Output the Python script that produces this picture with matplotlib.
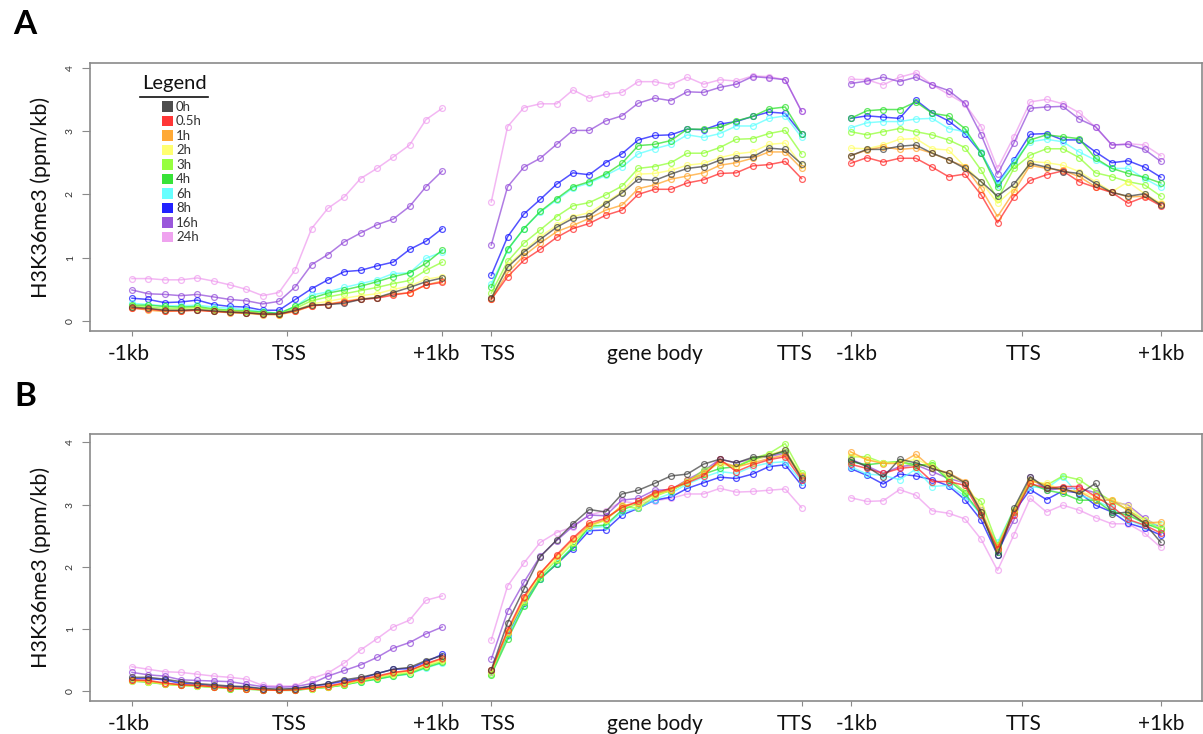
import numpy as np
import matplotlib
matplotlib.use("Agg")
import matplotlib.pyplot as plt
from matplotlib.patches import Rectangle
from matplotlib.lines import Line2D

W, H = 1203, 734
FONT = "Lato"

TIMES = ["0h", "0.5h", "1h", "2h", "3h", "4h", "6h", "8h", "16h", "24h"]
COLORS = ["#3a3a3a", "#ff2020", "#ffa020", "#ffff60", "#8cff2a",
          "#22e022", "#55ffff", "#0a0aff", "#8f45d8", "#ee99ee"]

# bin positions: 20 bins around TSS, 20 scaled gene-body bins, 20 bins around TTS
X_TSS = np.arange(20)
X_BODY = np.arange(22, 42)
X_TTS = np.arange(44, 64)

XLABELS = ["-1kb", "TSS", "+1kb", "TSS", "gene body", "TTS", "-1kb", "TTS", "+1kb"]
XLABEL_POS = [-0.2, 9.6, 18.6, 22.4, 32.0, 40.6, 44.4, 54.6, 63.0]
XTICK_POS = [0, 9.5, 19, 22, 41, 44, 54.5, 63]

# ---- panel A: H3K36me3 profiles, each list = TSS window + gene body + TTS window
a_0h = [0.22, 0.20, 0.17, 0.17, 0.18, 0.16, 0.14, 0.13, 0.11, 0.11, 0.17, 0.25, 0.26, 0.28, 0.34, 0.37, 0.45, 0.53, 0.62, 0.68,
        0.36, 0.85, 1.09, 1.29, 1.48, 1.62, 1.66, 1.85, 2.02, 2.24, 2.22, 2.32, 2.41, 2.44, 2.54, 2.58, 2.59, 2.73, 2.71, 2.48,
        2.61, 2.71, 2.71, 2.76, 2.78, 2.65, 2.55, 2.41, 2.20, 1.97, 2.16, 2.49, 2.43, 2.36, 2.33, 2.17, 2.03, 1.97, 2.01, 1.83]
a_05h = [0.20, 0.19, 0.16, 0.16, 0.17, 0.15, 0.14, 0.13, 0.11, 0.11, 0.16, 0.24, 0.26, 0.30, 0.34, 0.36, 0.41, 0.45, 0.57, 0.61,
         0.34, 0.70, 0.96, 1.13, 1.32, 1.46, 1.54, 1.67, 1.75, 2.00, 2.08, 2.08, 2.18, 2.23, 2.33, 2.34, 2.45, 2.47, 2.52, 2.25,
         2.49, 2.58, 2.51, 2.57, 2.57, 2.43, 2.28, 2.32, 1.99, 1.55, 1.96, 2.22, 2.31, 2.37, 2.20, 2.11, 2.03, 1.86, 1.96, 1.82]
a_1h = [0.21, 0.17, 0.15, 0.16, 0.17, 0.15, 0.13, 0.12, 0.10, 0.10, 0.15, 0.24, 0.27, 0.31, 0.35, 0.37, 0.43, 0.44, 0.57, 0.63,
        0.34, 0.76, 1.03, 1.23, 1.41, 1.51, 1.62, 1.75, 1.83, 2.09, 2.15, 2.24, 2.29, 2.34, 2.46, 2.50, 2.57, 2.67, 2.67, 2.41,
        2.61, 2.70, 2.75, 2.71, 2.73, 2.65, 2.54, 2.44, 2.09, 1.65, 2.04, 2.46, 2.41, 2.38, 2.28, 2.12, 2.04, 1.96, 1.97, 1.85]
a_2h = [0.22, 0.20, 0.17, 0.18, 0.19, 0.16, 0.14, 0.13, 0.11, 0.10, 0.17, 0.27, 0.31, 0.36, 0.40, 0.43, 0.50, 0.55, 0.66, 0.70,
        0.36, 0.88, 1.11, 1.33, 1.51, 1.65, 1.71, 1.87, 2.04, 2.32, 2.33, 2.38, 2.46, 2.49, 2.58, 2.64, 2.67, 2.79, 2.81, 2.46,
        2.73, 2.72, 2.78, 2.87, 2.88, 2.72, 2.70, 2.44, 2.20, 1.86, 2.09, 2.52, 2.50, 2.46, 2.36, 2.20, 2.04, 2.20, 2.01, 1.86]
a_3h = [0.24, 0.22, 0.20, 0.20, 0.21, 0.18, 0.16, 0.15, 0.12, 0.11, 0.20, 0.32, 0.38, 0.43, 0.48, 0.53, 0.59, 0.64, 0.80, 0.93,
        0.44, 0.94, 1.23, 1.44, 1.65, 1.82, 1.87, 1.99, 2.13, 2.41, 2.44, 2.50, 2.65, 2.65, 2.74, 2.87, 2.88, 2.96, 3.01, 2.64,
        2.99, 2.94, 2.99, 3.04, 2.99, 2.94, 2.86, 2.74, 2.38, 1.92, 2.41, 2.62, 2.72, 2.72, 2.58, 2.34, 2.28, 2.20, 2.15, 1.97]
a_4h = [0.25, 0.25, 0.23, 0.22, 0.23, 0.19, 0.17, 0.16, 0.14, 0.12, 0.23, 0.36, 0.44, 0.49, 0.55, 0.62, 0.70, 0.76, 0.91, 1.12,
        0.53, 1.13, 1.46, 1.73, 1.93, 2.12, 2.20, 2.32, 2.49, 2.77, 2.79, 2.85, 3.03, 3.03, 3.06, 3.16, 3.23, 3.35, 3.38, 2.96,
        3.20, 3.32, 3.34, 3.34, 3.46, 3.28, 3.24, 3.04, 2.65, 2.11, 2.46, 2.86, 2.94, 2.91, 2.88, 2.57, 2.41, 2.33, 2.27, 2.18]
a_6h = [0.28, 0.26, 0.24, 0.24, 0.25, 0.22, 0.20, 0.18, 0.15, 0.12, 0.23, 0.41, 0.46, 0.53, 0.59, 0.65, 0.75, 0.76, 0.99, 1.09,
        0.59, 1.12, 1.46, 1.72, 1.91, 2.10, 2.18, 2.30, 2.43, 2.64, 2.72, 2.79, 2.94, 2.90, 2.96, 3.08, 3.08, 3.20, 3.24, 2.90,
        3.05, 3.13, 3.15, 3.15, 3.19, 3.20, 3.04, 2.99, 2.67, 2.15, 2.52, 2.83, 2.87, 2.83, 2.67, 2.54, 2.41, 2.41, 2.25, 2.11]
a_8h = [0.36, 0.34, 0.29, 0.30, 0.33, 0.26, 0.23, 0.22, 0.17, 0.17, 0.34, 0.51, 0.65, 0.78, 0.80, 0.87, 0.93, 1.13, 1.26, 1.46,
        0.72, 1.33, 1.69, 1.92, 2.16, 2.34, 2.31, 2.50, 2.64, 2.86, 2.93, 2.94, 3.03, 3.02, 3.11, 3.15, 3.23, 3.30, 3.28, 2.96,
        3.20, 3.24, 3.22, 3.20, 3.49, 3.29, 3.16, 2.96, 2.65, 2.18, 2.54, 2.95, 2.96, 2.86, 2.86, 2.67, 2.50, 2.53, 2.43, 2.27]
a_16h = [0.49, 0.43, 0.42, 0.40, 0.42, 0.38, 0.34, 0.32, 0.27, 0.31, 0.54, 0.89, 1.05, 1.25, 1.39, 1.52, 1.61, 1.81, 2.12, 2.37,
         1.20, 2.12, 2.43, 2.57, 2.79, 3.01, 3.01, 3.16, 3.24, 3.44, 3.52, 3.48, 3.62, 3.61, 3.69, 3.74, 3.86, 3.84, 3.81, 3.31,
         3.75, 3.79, 3.85, 3.78, 3.85, 3.73, 3.64, 3.44, 2.94, 2.32, 2.81, 3.36, 3.38, 3.39, 3.19, 3.07, 2.78, 2.79, 2.71, 2.52]
a_24h = [0.67, 0.67, 0.65, 0.65, 0.68, 0.63, 0.57, 0.50, 0.40, 0.45, 0.81, 1.46, 1.78, 1.96, 2.25, 2.41, 2.59, 2.78, 3.18, 3.36,
         1.88, 3.07, 3.37, 3.43, 3.43, 3.65, 3.52, 3.58, 3.61, 3.78, 3.78, 3.73, 3.85, 3.74, 3.81, 3.79, 3.87, 3.86, 3.81, 3.31,
         3.82, 3.81, 3.73, 3.85, 3.92, 3.73, 3.58, 3.43, 3.07, 2.41, 2.91, 3.46, 3.50, 3.43, 3.29, 3.06, 2.78, 2.80, 2.78, 2.61]

# ---- panel B
b_0h = [0.22, 0.22, 0.19, 0.15, 0.12, 0.10, 0.08, 0.07, 0.04, 0.03, 0.04, 0.08, 0.12, 0.18, 0.22, 0.28, 0.35, 0.38, 0.49, 0.57,
        0.34, 1.10, 1.64, 2.16, 2.43, 2.69, 2.92, 2.88, 3.17, 3.23, 3.34, 3.46, 3.49, 3.65, 3.73, 3.67, 3.76, 3.78, 3.87, 3.42,
        3.72, 3.61, 3.44, 3.73, 3.67, 3.58, 3.50, 3.35, 2.88, 2.19, 2.94, 3.45, 3.26, 3.26, 3.17, 3.34, 2.85, 2.88, 2.70, 2.39]
b_05h = [0.18, 0.17, 0.13, 0.10, 0.09, 0.07, 0.05, 0.04, 0.02, 0.01, 0.02, 0.05, 0.08, 0.13, 0.19, 0.24, 0.30, 0.33, 0.44, 0.53,
         0.33, 0.98, 1.52, 1.89, 2.19, 2.46, 2.70, 2.78, 2.95, 3.05, 3.19, 3.26, 3.35, 3.46, 3.73, 3.53, 3.64, 3.72, 3.77, 3.40,
         3.65, 3.58, 3.50, 3.58, 3.61, 3.37, 3.37, 3.31, 2.83, 2.29, 2.83, 3.34, 3.26, 3.29, 3.29, 3.13, 2.97, 2.76, 2.67, 2.54]
b_1h = [0.17, 0.16, 0.12, 0.10, 0.09, 0.07, 0.05, 0.04, 0.02, 0.01, 0.02, 0.05, 0.07, 0.12, 0.18, 0.23, 0.29, 0.33, 0.43, 0.52,
        0.33, 0.95, 1.49, 1.90, 2.17, 2.44, 2.67, 2.76, 2.98, 3.03, 3.17, 3.24, 3.39, 3.50, 3.69, 3.61, 3.67, 3.74, 3.80, 3.46,
        3.85, 3.72, 3.66, 3.66, 3.81, 3.58, 3.51, 3.37, 2.88, 2.32, 2.88, 3.39, 3.31, 3.23, 3.21, 3.07, 3.07, 2.91, 2.70, 2.72]
b_2h = [0.16, 0.15, 0.11, 0.09, 0.08, 0.06, 0.05, 0.03, 0.02, 0.01, 0.02, 0.04, 0.07, 0.11, 0.17, 0.22, 0.28, 0.31, 0.42, 0.50,
        0.31, 0.95, 1.46, 1.88, 2.13, 2.40, 2.65, 2.75, 2.99, 2.98, 3.15, 3.23, 3.37, 3.50, 3.67, 3.58, 3.69, 3.80, 3.88, 3.47,
        3.80, 3.73, 3.67, 3.67, 3.73, 3.61, 3.47, 3.35, 2.95, 2.29, 2.91, 3.37, 3.34, 3.23, 3.21, 3.13, 3.08, 2.97, 2.75, 2.67]
b_3h = [0.17, 0.15, 0.11, 0.09, 0.08, 0.06, 0.04, 0.03, 0.02, 0.01, 0.02, 0.04, 0.06, 0.10, 0.16, 0.21, 0.26, 0.30, 0.40, 0.48,
        0.28, 0.93, 1.44, 1.84, 2.11, 2.38, 2.65, 2.75, 2.97, 2.94, 3.13, 3.23, 3.35, 3.56, 3.66, 3.61, 3.74, 3.82, 3.98, 3.50,
        3.77, 3.77, 3.67, 3.69, 3.61, 3.67, 3.42, 3.21, 3.05, 2.35, 2.92, 3.40, 3.31, 3.46, 3.40, 3.22, 3.05, 2.91, 2.75, 2.60]
b_4h = [0.16, 0.14, 0.11, 0.09, 0.08, 0.06, 0.04, 0.03, 0.02, 0.01, 0.01, 0.04, 0.06, 0.10, 0.15, 0.19, 0.24, 0.28, 0.38, 0.46,
        0.26, 0.83, 1.36, 1.80, 2.05, 2.31, 2.65, 2.67, 2.91, 3.02, 3.17, 3.22, 3.37, 3.49, 3.58, 3.61, 3.72, 3.80, 3.85, 3.47,
        3.69, 3.64, 3.67, 3.69, 3.64, 3.64, 3.39, 3.18, 2.84, 2.24, 2.88, 3.34, 3.23, 3.18, 3.07, 3.07, 2.88, 2.83, 2.70, 2.60]
b_6h = [0.17, 0.15, 0.12, 0.10, 0.08, 0.06, 0.05, 0.03, 0.02, 0.01, 0.02, 0.04, 0.06, 0.10, 0.15, 0.19, 0.24, 0.27, 0.37, 0.45,
        0.28, 0.88, 1.38, 1.81, 2.06, 2.32, 2.62, 2.65, 2.88, 2.94, 3.08, 3.18, 3.33, 3.44, 3.53, 3.50, 3.61, 3.67, 3.69, 3.37,
        3.61, 3.49, 3.47, 3.40, 3.57, 3.29, 3.31, 3.14, 2.83, 2.39, 2.92, 3.29, 3.26, 3.45, 3.15, 3.07, 2.94, 2.75, 2.65, 2.69]
b_8h = [0.20, 0.20, 0.18, 0.12, 0.11, 0.08, 0.07, 0.06, 0.03, 0.02, 0.03, 0.08, 0.11, 0.16, 0.20, 0.28, 0.35, 0.36, 0.47, 0.59,
        0.31, 0.90, 1.42, 1.81, 2.04, 2.29, 2.58, 2.59, 2.83, 2.94, 3.07, 3.12, 3.26, 3.35, 3.44, 3.42, 3.49, 3.61, 3.64, 3.31,
        3.58, 3.47, 3.33, 3.49, 3.46, 3.40, 3.30, 3.08, 2.75, 2.19, 2.88, 3.24, 3.08, 3.22, 3.19, 2.99, 2.88, 2.70, 2.62, 2.51]
b_16h = [0.30, 0.26, 0.24, 0.18, 0.17, 0.16, 0.15, 0.11, 0.07, 0.06, 0.07, 0.12, 0.24, 0.33, 0.42, 0.54, 0.69, 0.78, 0.92, 1.03,
         0.51, 1.28, 1.75, 2.17, 2.42, 2.65, 2.83, 2.82, 3.07, 3.10, 3.23, 3.24, 3.40, 3.54, 3.73, 3.67, 3.74, 3.77, 3.83, 3.45,
         3.73, 3.62, 3.50, 3.61, 3.64, 3.53, 3.42, 3.35, 2.91, 2.24, 2.75, 3.44, 3.23, 3.26, 3.26, 3.19, 3.05, 2.99, 2.78, 2.63]
b_24h = [0.39, 0.35, 0.31, 0.30, 0.27, 0.24, 0.22, 0.19, 0.09, 0.08, 0.08, 0.20, 0.29, 0.45, 0.66, 0.84, 1.03, 1.14, 1.46, 1.53,
         0.82, 1.69, 2.06, 2.39, 2.55, 2.64, 2.83, 2.90, 3.05, 3.02, 3.06, 3.10, 3.17, 3.17, 3.26, 3.20, 3.21, 3.23, 3.25, 2.95,
         3.11, 3.05, 3.06, 3.24, 3.15, 2.90, 2.86, 2.77, 2.44, 1.94, 2.51, 3.10, 2.88, 2.99, 2.91, 2.79, 2.69, 2.69, 2.54, 2.31]

PANEL_A = [a_0h, a_05h, a_1h, a_2h, a_3h, a_4h, a_6h, a_8h, a_16h, a_24h]
PANEL_B = [b_0h, b_05h, b_1h, b_2h, b_3h, b_4h, b_6h, b_8h, b_16h, b_24h]


def px(x, y):
    """pixel position (from top-left) -> figure fraction"""
    return x / W, 1 - y / H


def draw_panel(fig, box, series, ylim):
    left, top, right, bottom = box
    ax = fig.add_axes([left / W, 1 - bottom / H, (right - left) / W, (bottom - top) / H])
    # 24h first so the early time points sit on top
    for vals, col in reversed(list(zip(series, COLORS))):
        v = np.asarray(vals)
        for xs, seg in ((X_TSS, v[:20]), (X_BODY, v[20:40]), (X_TTS, v[40:])):
            ax.plot(xs, seg, "-o", color=col, lw=1.1, ms=4.2, mfc="none", mew=0.9, alpha=0.7)
    ax.set_xlim(-2.57, 65.49)
    ax.set_ylim(*ylim)
    for s in ax.spines.values():
        s.set_color("#8a8a8a"); s.set_linewidth(1.2)
    ax.set_yticks([0, 1, 2, 3, 4])
    ax.set_yticklabels(["0", "1", "2", "3", "4"], rotation=90, va="center",
                       fontsize=7.5, color="#333333", family=FONT)
    ax.tick_params(axis="y", length=6, width=0.8, color="#8a8a8a", pad=5)
    ax.set_xticks(XTICK_POS)
    ax.set_xticklabels([])
    ax.tick_params(axis="x", length=3.5, width=0.8, color="#8a8a8a")
    # region labels sit 29 px under the box
    ylab = -29 / (bottom - top)
    for lab, xp in zip(XLABELS, XLABEL_POS):
        ax.text(xp, ylab, lab, transform=ax.get_xaxis_transform(),
                ha="center", va="baseline", fontsize=15, family=FONT, color="#111111")
    return ax


fig = plt.figure(figsize=(W / 100, H / 100), dpi=100)

axA = draw_panel(fig, (90, 63.3, 1201.5, 331), PANEL_A, (-0.158, 4.07))
axB = draw_panel(fig, (90, 434, 1201.5, 700.7), PANEL_B, (-0.156, 4.135))

fig.text(*px(25, 24), "A", fontsize=24, fontweight="bold", family=FONT, ha="center", va="center")
fig.text(*px(25, 396), "B", fontsize=24, fontweight="bold", family=FONT, ha="center", va="center")
for yc in (197, 567):
    fig.text(*px(41, yc), "H3K36me3 (ppm/kb)", rotation=90, fontsize=15.5, family=FONT,
             ha="center", va="center", color="#111111")

# legend block inside panel A
fig.text(*px(174, 84), "Legend", fontsize=14.5, family=FONT, ha="center", va="center", color="#111111")
fig.add_artist(Line2D([140 / W, 208 / W], [1 - 96.5 / H, 1 - 96.5 / H], color="#111111", lw=1.2))
for i, (lab, col) in enumerate(zip(TIMES, COLORS)):
    yc = 106.7 + i * 14.5
    fig.add_artist(Rectangle(px(162, yc + 5), 10.5 / W, 10.5 / H, transform=fig.transFigure,
                             facecolor=col, edgecolor="none", alpha=0.9))
    fig.text(*px(176, yc), lab, fontsize=9.5, family=FONT, ha="left", va="center", color="#333333")

fig.savefig("out.png", dpi=100)
